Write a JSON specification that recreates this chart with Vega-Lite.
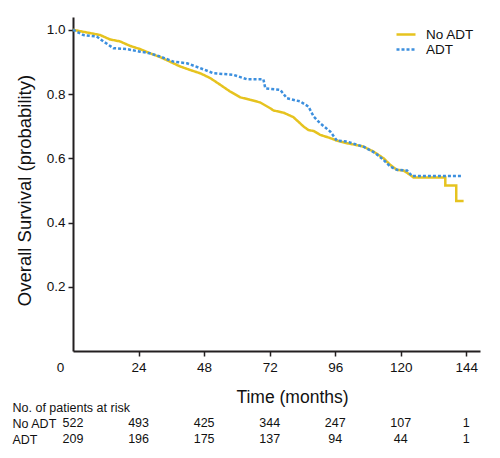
{
  "$schema": "https://vega.github.io/schema/vega-lite/v6.json",
  "padding": {"left": 12, "top": 17, "right": 20, "bottom": 13},
  "background": "white",
  "bounds": "flush",
  "spacing": 56,
  "config": {
    "view": {"stroke": null},
    "font": "Liberation Sans",
    "axis": {"grid": false, "domainColor": "#231f20", "tickColor": "#231f20", "labelColor": "#111111", "titleColor": "#111111", "titleFontWeight": "normal", "labelFont": "Liberation Sans", "titleFont": "Liberation Sans"}
  },
  "resolve": {"scale": {"x": "independent", "y": "independent"}},
  "datasets": {
    "km": [
      {"group": "No ADT", "t": 0, "s": 1.0},
      {"group": "No ADT", "t": 5, "s": 0.992},
      {"group": "No ADT", "t": 9.9, "s": 0.984},
      {"group": "No ADT", "t": 13.6, "s": 0.97},
      {"group": "No ADT", "t": 17.2, "s": 0.964},
      {"group": "No ADT", "t": 20.9, "s": 0.95},
      {"group": "No ADT", "t": 24.6, "s": 0.94},
      {"group": "No ADT", "t": 28.2, "s": 0.927},
      {"group": "No ADT", "t": 31.9, "s": 0.915},
      {"group": "No ADT", "t": 35.5, "s": 0.901},
      {"group": "No ADT", "t": 39.2, "s": 0.886},
      {"group": "No ADT", "t": 42.9, "s": 0.875},
      {"group": "No ADT", "t": 46.5, "s": 0.865},
      {"group": "No ADT", "t": 50.2, "s": 0.85},
      {"group": "No ADT", "t": 53.9, "s": 0.829},
      {"group": "No ADT", "t": 57.5, "s": 0.808},
      {"group": "No ADT", "t": 61.2, "s": 0.79},
      {"group": "No ADT", "t": 64.9, "s": 0.782},
      {"group": "No ADT", "t": 68.5, "s": 0.774},
      {"group": "No ADT", "t": 72.2, "s": 0.756},
      {"group": "No ADT", "t": 73.4, "s": 0.749},
      {"group": "No ADT", "t": 77.1, "s": 0.742},
      {"group": "No ADT", "t": 80.7, "s": 0.728},
      {"group": "No ADT", "t": 82.5, "s": 0.714},
      {"group": "No ADT", "t": 84.4, "s": 0.699},
      {"group": "No ADT", "t": 86.2, "s": 0.688},
      {"group": "No ADT", "t": 88.1, "s": 0.685},
      {"group": "No ADT", "t": 90.5, "s": 0.673},
      {"group": "No ADT", "t": 94.2, "s": 0.663},
      {"group": "No ADT", "t": 96.6, "s": 0.655},
      {"group": "No ADT", "t": 100.3, "s": 0.647},
      {"group": "No ADT", "t": 103.4, "s": 0.642},
      {"group": "No ADT", "t": 106.4, "s": 0.636},
      {"group": "No ADT", "t": 110.0, "s": 0.621},
      {"group": "No ADT", "t": 113.7, "s": 0.6},
      {"group": "No ADT", "t": 116.2, "s": 0.579},
      {"group": "No ADT", "t": 118.6, "s": 0.564},
      {"group": "No ADT", "t": 121.0, "s": 0.562},
      {"group": "No ADT", "t": 123.5, "s": 0.548},
      {"group": "No ADT", "t": 124.7, "s": 0.54},
      {"group": "No ADT", "t": 136.3, "s": 0.54},
      {"group": "No ADT", "t": 136.3, "s": 0.515},
      {"group": "No ADT", "t": 140.3, "s": 0.515},
      {"group": "No ADT", "t": 140.3, "s": 0.467},
      {"group": "No ADT", "t": 143.0, "s": 0.467},
      {"group": "ADT", "t": 0, "s": 1.0},
      {"group": "ADT", "t": 3.8, "s": 0.984},
      {"group": "ADT", "t": 8.7, "s": 0.979},
      {"group": "ADT", "t": 11.1, "s": 0.964},
      {"group": "ADT", "t": 14.8, "s": 0.943},
      {"group": "ADT", "t": 19.7, "s": 0.94},
      {"group": "ADT", "t": 24.6, "s": 0.932},
      {"group": "ADT", "t": 28.2, "s": 0.927},
      {"group": "ADT", "t": 31.9, "s": 0.917},
      {"group": "ADT", "t": 36.8, "s": 0.901},
      {"group": "ADT", "t": 41.7, "s": 0.896},
      {"group": "ADT", "t": 46.5, "s": 0.881},
      {"group": "ADT", "t": 51.4, "s": 0.865},
      {"group": "ADT", "t": 58.7, "s": 0.86},
      {"group": "ADT", "t": 63.7, "s": 0.846},
      {"group": "ADT", "t": 69.7, "s": 0.846},
      {"group": "ADT", "t": 70.4, "s": 0.818},
      {"group": "ADT", "t": 75.9, "s": 0.813},
      {"group": "ADT", "t": 78.3, "s": 0.787},
      {"group": "ADT", "t": 83.2, "s": 0.777},
      {"group": "ADT", "t": 86.2, "s": 0.761},
      {"group": "ADT", "t": 88.1, "s": 0.73},
      {"group": "ADT", "t": 90.5, "s": 0.709},
      {"group": "ADT", "t": 92.5, "s": 0.695},
      {"group": "ADT", "t": 94.2, "s": 0.683},
      {"group": "ADT", "t": 96.6, "s": 0.655},
      {"group": "ADT", "t": 100.3, "s": 0.652},
      {"group": "ADT", "t": 106.4, "s": 0.636},
      {"group": "ADT", "t": 110.7, "s": 0.616},
      {"group": "ADT", "t": 113.7, "s": 0.595},
      {"group": "ADT", "t": 116.2, "s": 0.574},
      {"group": "ADT", "t": 118.6, "s": 0.564},
      {"group": "ADT", "t": 122.3, "s": 0.562},
      {"group": "ADT", "t": 124.1, "s": 0.545},
      {"group": "ADT", "t": 142.4, "s": 0.545}
    ],
    "risk": [
      {"row": "No ADT", "t": 0, "n": 522},
      {"row": "No ADT", "t": 24, "n": 493},
      {"row": "No ADT", "t": 48, "n": 425},
      {"row": "No ADT", "t": 72, "n": 344},
      {"row": "No ADT", "t": 96, "n": 247},
      {"row": "No ADT", "t": 120, "n": 107},
      {"row": "No ADT", "t": 144, "n": 1},
      {"row": "ADT", "t": 0, "n": 209},
      {"row": "ADT", "t": 24, "n": 196},
      {"row": "ADT", "t": 48, "n": 175},
      {"row": "ADT", "t": 72, "n": 137},
      {"row": "ADT", "t": 96, "n": 94},
      {"row": "ADT", "t": 120, "n": 44},
      {"row": "ADT", "t": 144, "n": 1}
    ]
  },
  "vconcat": [
    {
      "width": 407,
      "height": 334,
      "data": {"name": "km"},
      "encoding": {
        "x": {
          "field": "t", "type": "quantitative",
          "scale": {"domain": [0, 149], "nice": false, "zero": false},
          "axis": {
            "values": [0, 24, 48, 72, 96, 120, 144],
            "format": "d",
            "title": "Time (months)",
            "titleFontSize": 17.5,
            "titleX": 219,
            "titlePadding": 15,
            "labelFontSize": 13.5,
            "labelPadding": 4,
            "labelFlush": false,
            "labelOverlap": false,
            "labelOffset": {"condition": {"test": "datum.value === 0", "value": -13}, "value": 0},
            "tickOpacity": {"condition": {"test": "datum.value === 0", "value": 0}, "value": 1},
            "tickSize": 5,
            "tickWidth": 1.5,
            "domainWidth": 2
          }
        },
        "y": {
          "field": "s", "type": "quantitative",
          "scale": {"domain": [0, 1.04], "nice": false, "zero": false},
          "axis": {
            "values": [0.2, 0.4, 0.6, 0.8, 1.0],
            "format": ".1f",
            "title": "Overall Survival (probability)",
            "titleFontSize": 18.5,
            "titlePadding": 12,
            "titleY": 173,
            "labelFontSize": 13.5,
            "labelPadding": 3,
            "tickSize": 5,
            "tickWidth": 1.5,
            "domainWidth": 2
          }
        },
        "color": {
          "field": "group", "type": "nominal",
          "scale": {"domain": ["No ADT", "ADT"], "range": ["#E6C31F", "#3C8FDE"]},
          "legend": {
            "title": null,
            "orient": "none",
            "legendX": 322,
            "legendY": 10,
            "symbolType": "stroke",
            "symbolSize": 361,
            "symbolStrokeWidth": 2.5,
            "labelFontSize": 13.5,
            "labelOffset": 9,
            "labelColor": "#111111",
            "clipHeight": 15,
            "rowPadding": 0,
            "padding": 0
          }
        },
        "strokeDash": {
          "field": "group", "type": "nominal",
          "scale": {"domain": ["No ADT", "ADT"], "range": [[1, 0], [3, 2]]},
          "legend": {
            "title": null,
            "orient": "none",
            "legendX": 322,
            "legendY": 10,
            "symbolType": "stroke",
            "symbolSize": 361,
            "symbolStrokeWidth": 2.5,
            "labelFontSize": 13.5,
            "labelOffset": 9,
            "labelColor": "#111111",
            "clipHeight": 15,
            "rowPadding": 0,
            "padding": 0
          }
        }
      },
      "layer": [
        {
          "transform": [{"filter": "datum.group === 'No ADT'"}],
          "mark": {"type": "line", "interpolate": "linear", "strokeWidth": 2.5}
        },
        {
          "transform": [{"filter": "datum.group === 'ADT'"}],
          "mark": {"type": "line", "interpolate": "linear", "strokeWidth": 2.5}
        }
      ]
    },
    {
      "width": 407,
      "height": 32,
      "data": {"name": "risk"},
      "mark": {"type": "text", "fontSize": 12.5, "font": "Liberation Sans", "color": "#111111", "align": "center", "baseline": "middle"},
      "encoding": {
        "x": {"field": "t", "type": "quantitative", "scale": {"domain": [0, 149], "nice": false, "zero": false}, "axis": null},
        "y": {
          "field": "row", "type": "ordinal",
          "scale": {"type": "point", "domain": ["No. of patients at risk", "No ADT", "ADT"], "padding": 0},
          "axis": {"title": null, "domain": false, "ticks": false, "labelAlign": "left", "labelBaseline": "middle", "labelPadding": 61, "labelFont": "Liberation Sans", "labelFontSize": 12.5, "labelColor": "#111111"}
        },
        "text": {"field": "n", "type": "quantitative"}
      }
    }
  ]
}
